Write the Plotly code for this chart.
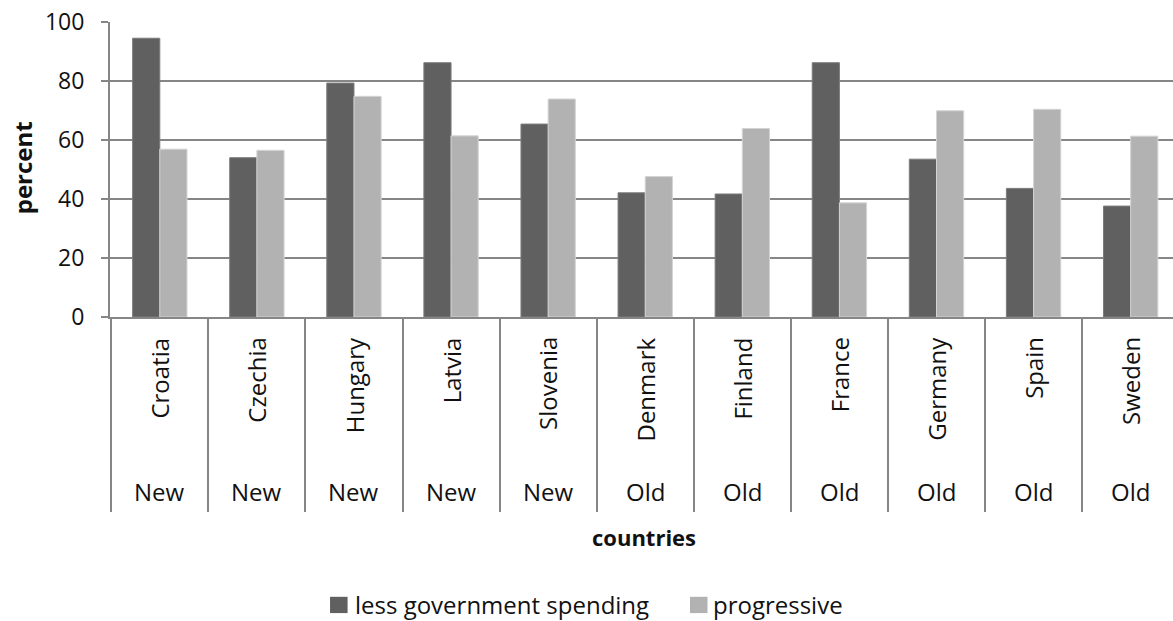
import plotly.graph_objects as go

# Survey shares by country (percent)
countries = ["Croatia", "Czechia", "Hungary", "Latvia", "Slovenia",
             "Denmark", "Finland", "France", "Germany", "Spain", "Sweden"]
groups = ["New", "New", "New", "New", "New",
          "Old", "Old", "Old", "Old", "Old", "Old"]
less_spending = [94.5, 54.0, 79.3, 86.2, 65.4, 42.1, 41.7, 86.2, 53.5, 43.6, 37.6]
progressive = [56.9, 56.5, 74.8, 61.4, 73.9, 47.6, 63.9, 38.7, 69.9, 70.4, 61.3]
series_names = ["less government spending", "progressive"]
y_ticks = [0, 20, 40, 60, 80, 100]

FONT = "Open Sans"
GRID = "#868686"
TEXT = "#111111"
DARK = "#606060"
LIGHT = "#b2b2b2"

fig = go.Figure()
fig.add_trace(go.Bar(
    name=series_names[0], x=countries, y=less_spending,
    marker=dict(color=DARK, line=dict(color="#7c7c7c", width=1)),
))
fig.add_trace(go.Bar(
    name=series_names[1], x=countries, y=progressive,
    marker=dict(color=LIGHT, line=dict(color="#d4d4d4", width=1)),
))

# Two-level category labels under the axis
annotations = []
for c, g in zip(countries, groups):
    annotations.append(dict(
        x=c, xref="x", y=-0.062, yref="paper", text=c, textangle=-90,
        xanchor="center", yanchor="top", showarrow=False,
        font=dict(family=FONT, size=24, color=TEXT),
    ))
    annotations.append(dict(
        x=c, xref="x", y=-0.593, yref="paper", text=g,
        xanchor="center", yanchor="middle", showarrow=False,
        font=dict(family=FONT, size=24, color=TEXT),
    ))

# Axis titles
annotations.append(dict(
    x=0.502, xref="paper", y=-0.745, yref="paper", text="<b>countries</b>",
    xanchor="center", yanchor="middle", showarrow=False,
    font=dict(family=FONT, size=22, color=TEXT),
))
annotations.append(dict(
    x=-0.0823, xref="paper", y=0.506, yref="paper", text="<b>percent</b>",
    textangle=-90, xanchor="center", yanchor="middle", showarrow=False,
    font=dict(family=FONT, size=24, color=TEXT),
))

# Legend: colour swatches with labels beneath the chart
shapes = []
legend_items = [(series_names[0], DARK, 0.2070, 0.2290),
                (series_names[1], LIGHT, 0.5456, 0.5650)]
for name, color, sx, tx in legend_items:
    shapes.append(dict(
        type="rect", xref="paper", yref="paper",
        x0=sx, x1=sx + 0.0165, y0=-1.0037, y1=-0.9485,
        fillcolor=color, line=dict(width=0),
    ))
    annotations.append(dict(
        x=tx, xref="paper", y=-0.976, yref="paper", text=name,
        xanchor="left", yanchor="middle", showarrow=False,
        font=dict(family=FONT, size=24, color=TEXT),
    ))

fig.update_layout(
    width=1173, height=621,
    margin=dict(l=110, r=0, t=21.5, b=304.3),
    paper_bgcolor="white", plot_bgcolor="white",
    barmode="group", bargap=0.44, bargroupgap=0,
    font=dict(family=FONT, size=24, color=TEXT),
    showlegend=False,
    annotations=annotations,
    shapes=shapes,
)

fig.update_xaxes(
    type="category", range=[-0.513, 10.436],
    showticklabels=False, showgrid=False,
    showline=True, linecolor=GRID, linewidth=2,
    ticks="outside", tickson="boundaries", ticklen=193,
    tickcolor=GRID, tickwidth=2,
)
fig.update_yaxes(
    range=[0, 100], tickvals=y_ticks,
    showgrid=True, gridcolor=GRID, gridwidth=2,
    showline=True, linecolor=GRID, linewidth=2,
    ticks="outside", ticklen=7, tickcolor=GRID, tickwidth=2,
    ticklabelstandoff=12, zeroline=False,
    tickfont=dict(family=FONT, size=23, color=TEXT),
)

fig.write_html("out.html")
